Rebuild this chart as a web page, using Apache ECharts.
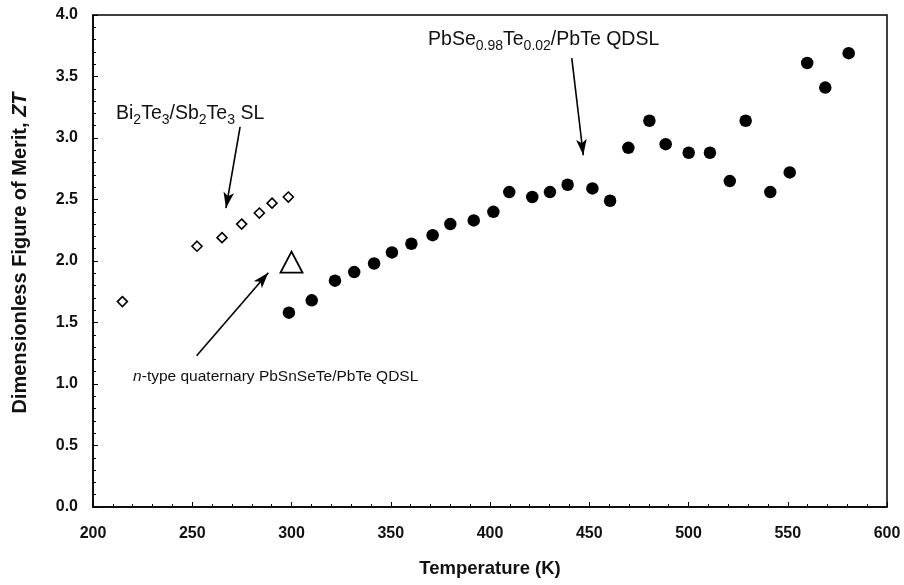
<!DOCTYPE html>
<html>
<head>
<meta charset="utf-8">
<script src="https://cdn.jsdelivr.net/npm/echarts@6/dist/echarts.min.js"></script>
<style>
html,body{margin:0;padding:0;background:#fff;}
#c{width:904px;height:585px;}
</style>
</head>
<body>
<div id="c"></div>
<script>
// PbSe0.98Te0.02/PbTe QDSL (filled circles)
const tempQDSL = [298.7, 310.2, 321.9, 331.6, 341.6, 350.6, 360.4, 371.1, 380.0, 391.8, 401.7, 409.7, 421.3, 430.2, 439.1, 451.6, 460.5, 469.7, 480.3, 488.5, 500.1, 510.8, 520.8, 528.8, 541.2, 551.0, 559.8, 568.9, 580.7];
const ztQDSL   = [1.58, 1.68, 1.84, 1.91, 1.98, 2.07, 2.14, 2.21, 2.30, 2.33, 2.40, 2.56, 2.52, 2.56, 2.62, 2.59, 2.49, 2.92, 3.14, 2.95, 2.88, 2.88, 2.65, 3.14, 2.56, 2.72, 3.61, 3.41, 3.69];
// Bi2Te3/Sb2Te3 SL (open diamonds)
const tempSL = [214.8, 252.4, 265.0, 274.9, 283.8, 290.2, 298.4];
const ztSL   = [1.67, 2.12, 2.19, 2.30, 2.39, 2.47, 2.52];
// n-type quaternary PbSnSeTe/PbTe QDSL (open triangle)
const tempQuat = [300];
const ztQuat   = [1.99];
// axis ticks
const xTicks = [200, 250, 300, 350, 400, 450, 500, 550, 600];
const yTicks = [0.0, 0.5, 1.0, 1.5, 2.0, 2.5, 3.0, 3.5, 4.0];
// annotation texts
const annoSL   = '{n|Bi}{s|2}{n|Te}{s|3}{n|/Sb}{s|2}{n|Te}{s|3}{n| SL}';
const annoQDSL = '{n|PbSe}{s|0.98}{n|Te}{s|0.02}{n|/PbTe QDSL}';
const annoQuat = '{i|n}{m|-type quaternary PbSnSeTe/PbTe QDSL}';
// annotation anchors (data space)
const annoSLPos   = [211.6, 3.20];
const annoQDSLPos = [368.8, 3.80];
const annoQuatPos = [220.2, 1.06];
// arrows [from, to] (data space)
const arrowSL   = [[274.1, 3.09], [267.0, 2.43]];
const arrowQDSL = [[441.2, 3.65], [447.0, 2.86]];
const arrowQuat = [[252.2, 1.23], [288.3, 1.905]];

const FONT = '"Liberation Sans", Arial, sans-serif';
const richStyle = {
  n: {fontSize: 19.5, color: '#111', fontFamily: FONT, lineHeight: 28},
  s: {fontSize: 14, color: '#111', fontFamily: FONT, lineHeight: 14, verticalAlign: 'bottom'},
  i: {fontSize: 15.5, color: '#111', fontFamily: FONT, lineHeight: 20, fontStyle: 'italic'},
  m: {fontSize: 15.5, color: '#111', fontFamily: FONT, lineHeight: 20}
};

const chart = echarts.init(document.getElementById('c'), null, {renderer: 'canvas'});
const zip = (a, b) => a.map((v, i) => [v, b[i]]);
const textPoint = (pos, fmt) => ({
  coord: pos,
  symbol: 'circle', symbolSize: 0,
  label: {show: true, position: 'right', distance: 0, formatter: fmt, rich: richStyle}
});
const arrow = (a) => [{coord: a[0]}, {coord: a[1]}];

chart.setOption({
  animation: false,
  backgroundColor: '#fff',
  grid: {left: 93, right: 17, top: 15, bottom: 78, show: true, borderColor: '#000', borderWidth: 1.5, backgroundColor: 'transparent'},
  xAxis: {
    type: 'value', min: xTicks[0], max: xTicks[xTicks.length - 1], interval: 50,
    name: 'Temperature (K)', nameLocation: 'middle', nameGap: 52,
    nameTextStyle: {fontSize: 18.5, fontWeight: 'bold', color: '#111', fontFamily: FONT},
    axisLine: {show: true, lineStyle: {color: '#000', width: 1.5}},
    axisTick: {show: true, inside: true, length: 5, lineStyle: {color: '#000'}},
    minorTick: {show: true, splitNumber: 5, length: 3, lineStyle: {color: '#000'}},
    axisLabel: {fontSize: 16, fontWeight: 'bold', color: '#111', margin: 19, fontFamily: FONT},
    splitLine: {show: false}
  },
  yAxis: {
    type: 'value', min: yTicks[0], max: yTicks[yTicks.length - 1], interval: 0.5,
    name: '{t|Dimensionless Figure of Merit, }{it|ZT}', nameLocation: 'middle', nameGap: 63,
    nameTextStyle: {padding: [0, 0, 0, 16], rich: {
      t: {fontSize: 20, fontWeight: 'bold', color: '#111', fontFamily: FONT},
      it: {fontSize: 20, fontWeight: 'bold', fontStyle: 'italic', color: '#111', fontFamily: FONT}
    }},
    axisLine: {show: true, lineStyle: {color: '#000', width: 1.5}},
    axisTick: {show: true, inside: true, length: 5, lineStyle: {color: '#000'}},
    minorTick: {show: true, splitNumber: 5, length: 3, lineStyle: {color: '#000'}},
    axisLabel: {fontSize: 16, fontWeight: 'bold', color: '#111', margin: 15, fontFamily: FONT,
      formatter: v => v.toFixed(1)},
    splitLine: {show: false}
  },
  series: [
    {
      name: 'PbSe0.98Te0.02/PbTe QDSL', type: 'scatter', symbol: 'circle', symbolSize: 12.5,
      itemStyle: {color: '#000', opacity: 1},
      data: zip(tempQDSL, ztQDSL),
      markLine: {
        silent: true, symbol: ['none', 'arrow'], symbolSize: [8, 16],
        lineStyle: {color: '#000', width: 1.6, type: 'solid', opacity: 1},
        label: {show: false},
        data: [arrow(arrowSL), arrow(arrowQDSL), arrow(arrowQuat)]
      },
      markPoint: {
        silent: true,
        data: [textPoint(annoSLPos, annoSL), textPoint(annoQDSLPos, annoQDSL), textPoint(annoQuatPos, annoQuat)]
      }
    },
    {
      name: 'Bi2Te3/Sb2Te3 SL', type: 'scatter', symbol: 'diamond', symbolSize: 10,
      itemStyle: {color: '#fff', borderColor: '#000', borderWidth: 1.6, opacity: 1},
      data: zip(tempSL, ztSL)
    },
    {
      name: 'n-type quaternary PbSnSeTe/PbTe QDSL', type: 'scatter', symbol: 'triangle', symbolSize: [22, 21],
      itemStyle: {color: '#fff', borderColor: '#000', borderWidth: 1.8, opacity: 1},
      data: zip(tempQuat, ztQuat)
    }
  ]
});
</script>
</body>
</html>
